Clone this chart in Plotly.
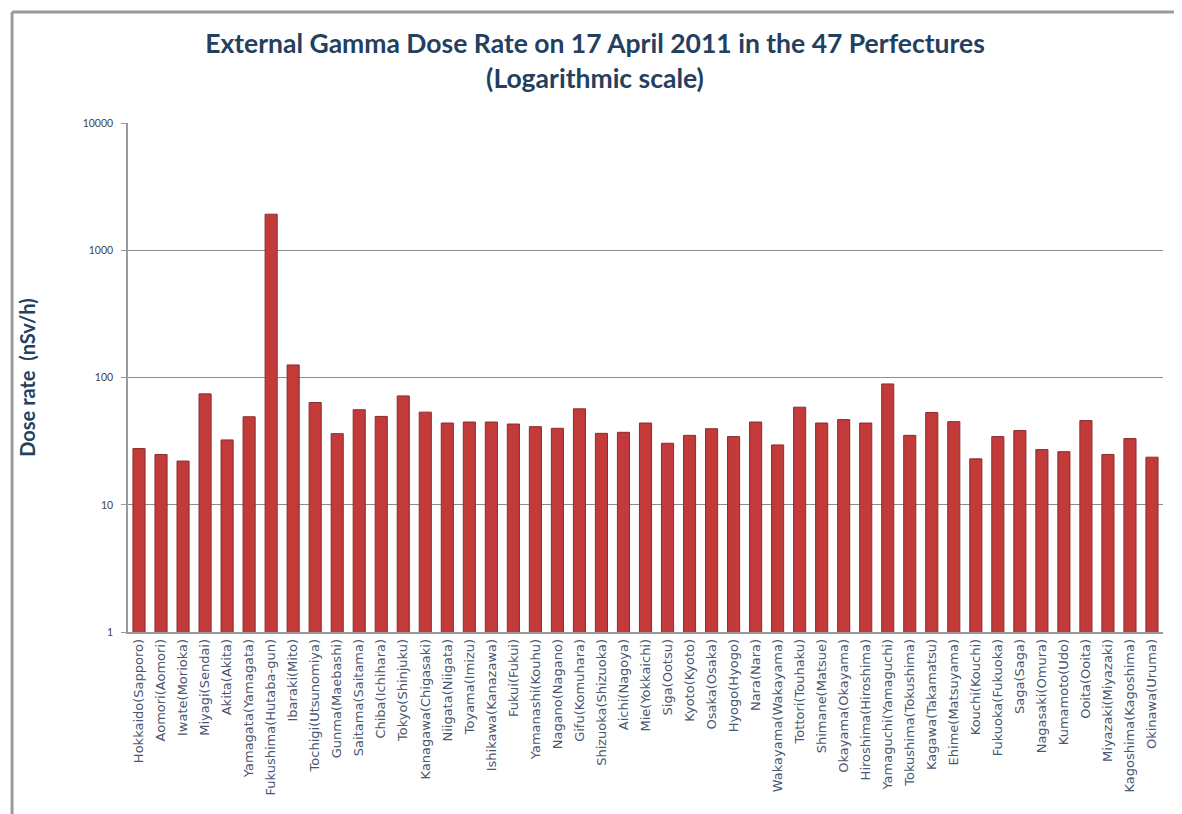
import plotly.graph_objects as go

prefectures = [
    "Hokkaido(Sapporo)", "Aomori(Aomori)", "Iwate(Morioka)", "Miyagi(Sendai)", "Akita(Akita)",
    "Yamagata(Yamagata)", "Fukushima(Hutaba-gun)", "Ibaraki(Mito)", "Tochigi(Utsunomiya)",
    "Gunma(Maebashi)", "Saitama(Saitama)", "Chiba(Ichihara)", "Tokyo(Shinjuku)",
    "Kanagawa(Chigasaki)", "Niigata(Niigata)", "Toyama(Imizu)", "Ishikawa(Kanazawa)",
    "Fukui(Fukui)", "Yamanashi(Kouhu)", "Nagano(Nagano)", "Gifu(Komuhara)", "Shizuoka(Shizuoka)",
    "Aichi(Nagoya)", "Mie(Yokkaichi)", "Siga(Ootsu)", "Kyoto(Kyoto)", "Osaka(Osaka)",
    "Hyogo(Hyogo)", "Nara(Nara)", "Wakayama(Wakayama)", "Tottori(Touhaku)", "Shimane(Matsue)",
    "Okayama(Okayama)", "Hiroshima(Hiroshima)", "Yamaguchi(Yamaguchi)", "Tokushima(Tokushima)",
    "Kagawa(Takamatsu)", "Ehime(Matsuyama)", "Kouchi(Kouchi)", "Fukuoka(Fukuoka)", "Saga(Saga)",
    "Nagasaki(Omura)", "Kumamoto(Udo)", "Ooita(Ooita)", "Miyazaki(Miyazaki)",
    "Kagoshima(Kagoshima)", "Okinawa(Uruma)",
]

dose_rate = [
    27.7, 24.9, 22.1, 74.6, 32.4, 49.3, 1930, 126, 63.8, 36.3, 56, 49.6, 71.9, 53.6, 44,
    44.8, 44.8, 43.2, 41.2, 40, 56.9, 36.5, 37.2, 44, 30.5, 35.2, 39.7, 34.4, 44.8, 29.6,
    58.6, 44, 46.8, 44, 89.3, 35.2, 53.3, 45.1, 23, 34.4, 38.4, 27.2, 26.2, 46, 24.9, 33.2, 23.7,
]

y_ticks = [1, 10, 100, 1000, 10000]
y_tick_labels = ["1", "10", "100", "1000", "10000"]

title_text = "External Gamma Dose Rate on 17 April 2011 in the 47 Perfectures<br>(Logarithmic scale)"
y_title = "Dose rate  (nSv/h)"

fig = go.Figure()
fig.add_trace(go.Bar(
    x=prefectures,
    y=dose_rate,
    marker=dict(color="#C23A3A", line=dict(color="#8A2E2C", width=1)),
    hoverinfo="x+y",
))

fig.update_layout(
    width=1174,
    height=806,
    paper_bgcolor="white",
    plot_bgcolor="white",
    margin=dict(l=120, r=19, t=115, b=182),
    bargap=0.45,
    showlegend=False,
    title=dict(
        text=title_text,
        x=0.5,
        xanchor="center",
        y=0.944,
        yanchor="top",
        font=dict(family="Lato", size=26.5, color="#243F60", weight="bold"),
    ),
    xaxis=dict(
        type="category",
        tickangle=-90,
        tickfont=dict(family="DejaVu Sans", size=13, color="#4A5670"),
        showline=True,
        linecolor="#9A9A9A",
        linewidth=1.5,
        ticks="",
        showgrid=False,
    ),
    yaxis=dict(
        type="log",
        range=[0, 4.003],
        tickvals=y_ticks,
        ticktext=y_tick_labels,
        tickfont=dict(family="Lato", size=10.5, color="#444444"),
        ticklabelstandoff=6,
        showgrid=True,
        gridcolor="#8C8C8C",
        gridwidth=1.2,
        showline=True,
        linecolor="#9A9A9A",
        linewidth=1.5,
        ticks="outside",
        ticklen=5,
        tickcolor="#9A9A9A",
        zeroline=False,
        title=dict(
            text=y_title,
            standoff=42,
            font=dict(family="Lato", size=20, color="#243F60", weight="bold"),
        ),
    ),
)

# page frame (gray border at top and left)
fig.add_shape(type="line", xref="paper", yref="paper",
              x0=-0.112, x1=1.03, y0=1.218, y1=1.218,
              line=dict(color="#9A9A9A", width=3))
fig.add_shape(type="line", xref="paper", yref="paper",
              x0=-0.112, x1=-0.112, y0=1.218, y1=-0.37,
              line=dict(color="#9A9A9A", width=3))

fig.write_html("out.html")
